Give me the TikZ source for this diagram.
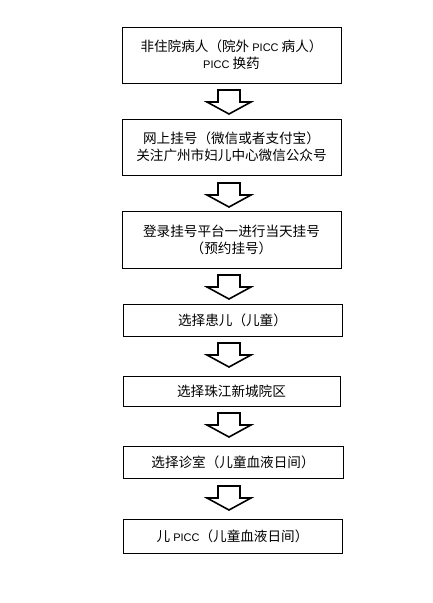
\documentclass[tikz,border=0pt]{standalone}
\usepackage{fontspec}
\setmainfont{Noto Sans CJK SC}
\newfontfamily\latinsmall{Liberation Sans}
\begin{document}
\begin{tikzpicture}[x=1pt,y=-1pt,
  stepbox/.style={draw=black,line width=0.9pt,minimum width=219pt,inner sep=0pt,align=center,
    font=\fontsize{13.6}{17}\selectfont},
  arrowline/.style={draw=black,line width=1.6pt,fill=white,line join=miter},
  blockarrow/.pic={\path[arrowline] (-11,0) -- (11,0) -- (11,12) -- (22,12) -- (0,24) -- (-22,12) -- (-11,12) -- cycle;}
]
\path[fill=white,use as bounding box] (0,0) rectangle (432,603);
\node[stepbox,minimum height=56pt] (b1) at (231.5,55) {非住院病人（院外 {\latinsmall\fontsize{11}{17}\selectfont PICC} 病人）\\{\latinsmall\fontsize{11}{17}\selectfont PICC} 换药};
\node[stepbox,minimum height=56pt] (b2) at (231.5,147) {网上挂号（微信或者支付宝）\\关注广州市妇儿中心微信公众号};
\node[stepbox,minimum height=57pt] (b3) at (231.5,239.5) {登录挂号平台一进行当天挂号\\（预约挂号）};
\node[stepbox,minimum height=32pt] (b4) at (232.5,320) {选择患儿（儿童）};
\node[stepbox,minimum height=30pt,minimum width=217pt] (b5) at (231.5,391) {选择珠江新城院区};
\node[stepbox,minimum height=32pt,minimum width=220pt] (b6) at (233,462) {选择诊室（儿童血液日间）};
\node[stepbox,minimum height=34pt] (b7) at (232.5,536) {儿 {\latinsmall\fontsize{11}{17}\selectfont PICC}（儿童血液日间）};
\pic at (229,90) {blockarrow};
\pic at (229,183) {blockarrow};
\pic at (229,275) {blockarrow};
\pic at (229,343) {blockarrow};
\pic at (229,413) {blockarrow};
\pic at (229,486) {blockarrow};
\end{tikzpicture}
\end{document}
